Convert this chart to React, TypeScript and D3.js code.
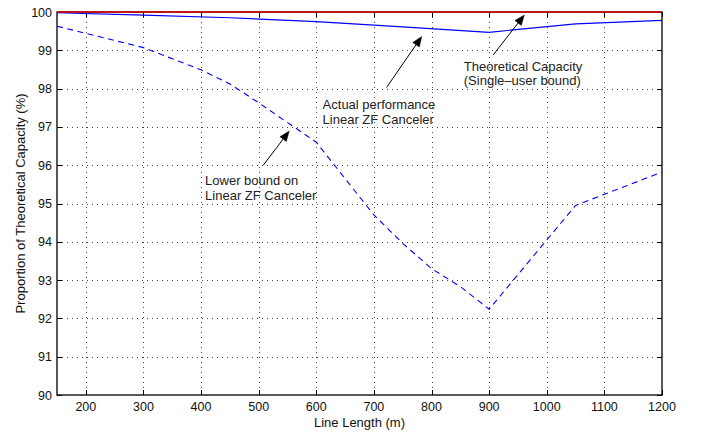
import React from "react";
import * as d3 from "d3";

// line length (m) and proportion of capacity (%)
const boundX = [150, 1200];
const boundY = [100, 100];

const actualX = [150, 300, 450, 600, 750, 900, 1050, 1200];
const actualY = [99.98, 99.92, 99.85, 99.75, 99.61, 99.47, 99.69, 99.78];

const lowerX = [150, 300, 400, 450, 500, 600, 650, 700, 750, 800, 850, 900, 1050, 1200];
const lowerY = [99.63, 99.07, 98.49, 98.12, 97.63, 96.6, 95.65, 94.7, 93.96, 93.3, 92.83, 92.24, 94.95, 95.82];

const xTicks = [200, 300, 400, 500, 600, 700, 800, 900, 1000, 1100, 1200];
const yTicks = [90, 91, 92, 93, 94, 95, 96, 97, 98, 99, 100];

// annotations in data units
const notes = [
  { lines: ["Theoretical Capacity", "(Single\u2013user bound)"], tx: 856, ty: 98.47, from: [907, 98.88], to: [961, 99.92] },
  { lines: ["Actual performance", "Linear ZF Canceler"], tx: 611, ty: 97.46, from: [722, 98.03], to: [783, 99.36] },
  { lines: ["Lower bound on", "Linear ZF Canceler"], tx: 407, ty: 95.48, from: [508, 96.0], to: [553, 96.89] },
];

const W = 701;
const H = 435;
const left = 57;
const right = 662;
const top = 12;
const bottom = 395;
const font = "'Liberation Sans', Arial, Helvetica, sans-serif";

export default function App() {
  const x = d3.scaleLinear().domain([150, 1200]).range([left, right]);
  const y = d3.scaleLinear().domain([90, 100]).range([bottom, top]);

  const path = (xs: number[], ys: number[]) =>
    d3
      .line<number>()
      .x((d) => x(d))
      .y((_, i) => y(ys[i]))(xs) || "";

  const arrow = (from: number[], to: number[]) => {
    const x1 = x(from[0]), y1 = y(from[1]);
    const x2 = x(to[0]), y2 = y(to[1]);
    const a = Math.atan2(y2 - y1, x2 - x1);
    const len = 10, wid = 4;
    const bx = x2 - len * Math.cos(a), by = y2 - len * Math.sin(a);
    const px = -Math.sin(a) * wid, py = Math.cos(a) * wid;
    return {
      shaft: `M${x1},${y1}L${bx},${by}`,
      head: `M${x2},${y2}L${bx + px},${by + py}L${bx - px},${by - py}Z`,
    };
  };

  const px = (v: number) => Math.round(v) + 0.5;

  return (
    <svg width={W} height={H} style={{ position: "absolute", left: 0, top: 0, background: "#fff" }} fontFamily={font}>
      <rect x={0} y={0} width={W} height={H} fill="#fff" />
      {/* grid */}
      <g stroke="#444" strokeWidth={1} strokeDasharray="1,4">
        {xTicks.filter((t) => t < 1200).map((t) => (
          <line key={"gx" + t} x1={px(x(t))} x2={px(x(t))} y1={top} y2={bottom} />
        ))}
        {yTicks.filter((t) => t > 90 && t < 100).map((t) => (
          <line key={"gy" + t} x1={left} x2={right} y1={px(y(t))} y2={px(y(t))} />
        ))}
      </g>
      {/* box */}
      <rect x={left} y={top} width={right - left} height={bottom - top} fill="none" stroke="#000" strokeWidth={1.3} />
      {/* ticks */}
      <g stroke="#000" strokeWidth={1}>
        {xTicks.map((t) => (
          <g key={"tx" + t}>
            <line x1={px(x(t))} x2={px(x(t))} y1={bottom} y2={bottom - 5} />
            <line x1={px(x(t))} x2={px(x(t))} y1={top} y2={top + 5} />
          </g>
        ))}
        {yTicks.map((t) => (
          <g key={"ty" + t}>
            <line x1={left} x2={left + 5} y1={px(y(t))} y2={px(y(t))} />
            <line x1={right} x2={right - 5} y1={px(y(t))} y2={px(y(t))} />
          </g>
        ))}
      </g>
      {/* tick labels */}
      <g fontSize={12.5} fill="#111">
        {xTicks.map((t) => (
          <text key={"lx" + t} x={x(t)} y={411} textAnchor="middle">{t}</text>
        ))}
        {yTicks.map((t) => (
          <text key={"ly" + t} x={left - 5} y={y(t) + 4.5} textAnchor="end">{t}</text>
        ))}
      </g>
      <text x={(left + right) / 2} y={427} fontSize={13} fill="#111" textAnchor="middle">Line Length (m)</text>
      <text
        transform={`translate(25,${(top + bottom) / 2}) rotate(-90)`}
        fontSize={13}
        fill="#111"
        textAnchor="middle"
      >
        Proportion of Theoretical Capacity (%)
      </text>
      {/* series */}
      <path d={path(lowerX, lowerY)} fill="none" stroke="#0000ff" strokeWidth={1.1} strokeDasharray="6,4.5" />
      <path d={path(actualX, actualY)} fill="none" stroke="#0000ff" strokeWidth={1.2} />
      <path d={path(boundX, boundY)} fill="none" stroke="#e00000" strokeWidth={1.4} />
      {/* annotations */}
      {notes.map((n, i) => {
        const a = arrow(n.from, n.to);
        return (
          <g key={"n" + i}>
            <path d={a.shaft} stroke="#000" strokeWidth={1} fill="none" />
            <path d={a.head} fill="#000" stroke="#000" strokeWidth={0.5} />
            {n.lines.map((s, j) => (
              <text key={j} x={x(n.tx)} y={y(n.ty) + j * 14.5} fontSize={13} fill="#222">{s}</text>
            ))}
          </g>
        );
      })}
    </svg>
  );
}
